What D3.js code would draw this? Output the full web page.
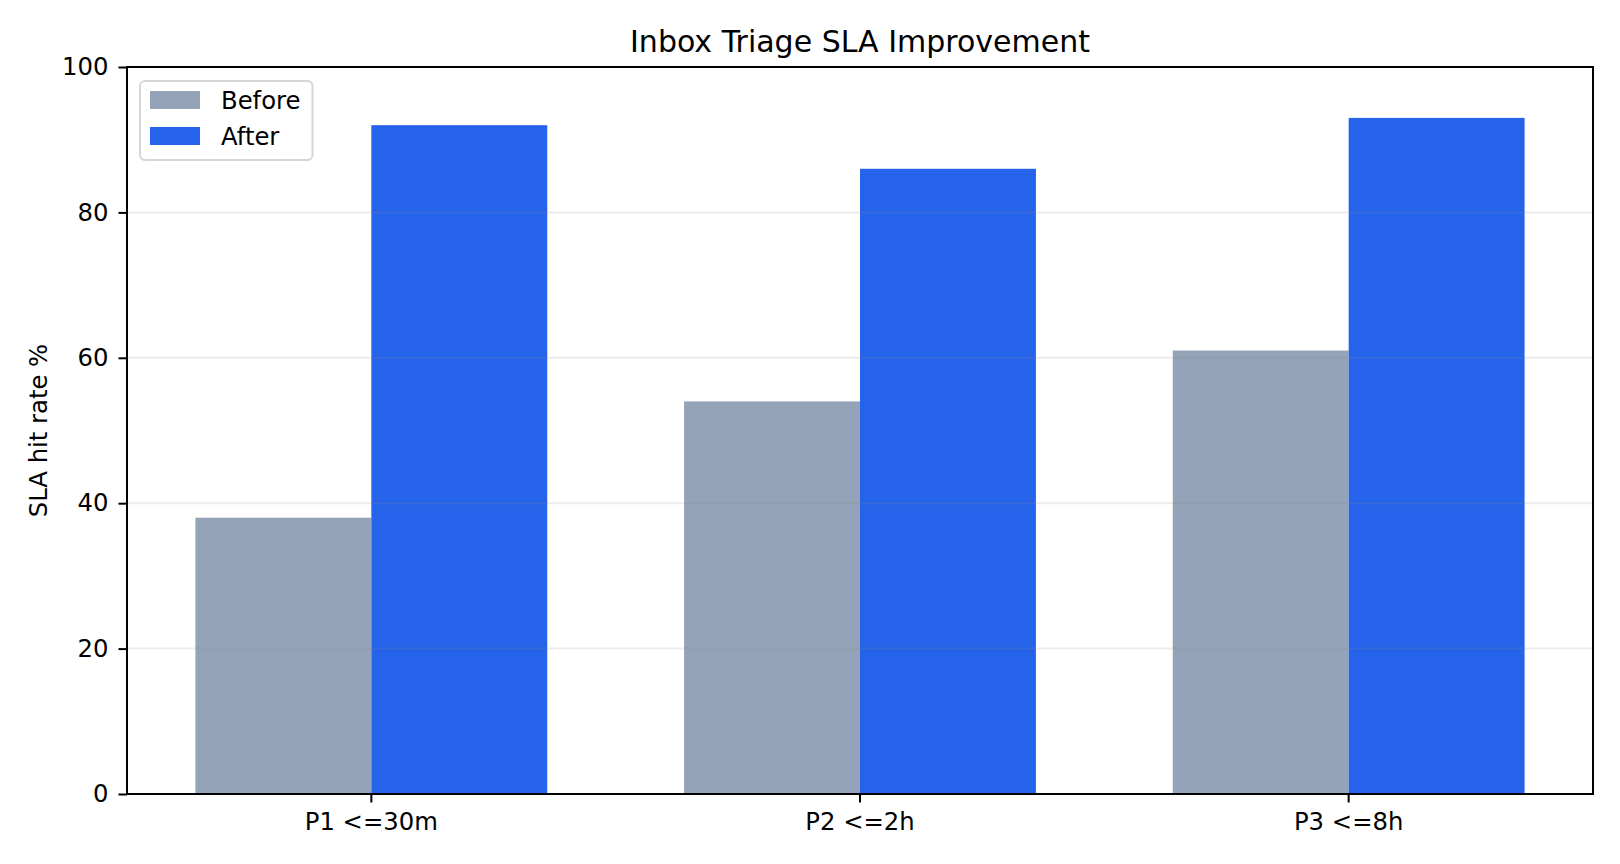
<!DOCTYPE html>
<html>
<head>
<meta charset="utf-8">
<script src="https://cdn.jsdelivr.net/npm/d3@7"></script>
<style>
  body { margin: 0; background: #fff; }
  text { font-family: 'DejaVu Sans', sans-serif; fill: #000; }
</style>
</head>
<body>
<div class="visHolder"></div>
<script>
// カテゴリ（横軸）
const categories = ['P1 <=30m', 'P2 <=2h', 'P3 <=8h']

// 系列ごとの値 (SLA hit rate %)
const seriesNames = ['Before', 'After']
const beforeValues = [38, 54, 61]
const afterValues = [92, 86, 93]

// 縦軸のメモリ
const yTicks = [0, 20, 40, 60, 80, 100]

const colors = ['#94a3b8', '#2563eb']

// 画面サイズ
const width = 1620
const height = 864

// グラフ描画エリアのマージン
const margin = { top: 67, right: 27, bottom: 70, left: 127 }

const svgContainer = d3.select('.visHolder').append('svg')
  .attr('width', width)
  .attr('height', height)

// x軸はカテゴリごとの scaleBand
const xScale = d3.scaleBand()
  .domain(categories)
  .range([margin.left, width - margin.right])
  .paddingInner(0)
  .paddingOuter(0)

// カテゴリ内で Before / After を並べる（バーの幅は 0.36 単位）
const barWidth = 0.36
const xSub = d3.scaleBand()
  .domain(seriesNames)
  .range([xScale.bandwidth() * (0.5 - barWidth), xScale.bandwidth() * (0.5 + barWidth)])

const yScale = d3.scaleLinear()
  .domain([0, 100])
  .range([height - margin.bottom, margin.top])

// 描画用にテーブルを作る
const rows = categories.map((c, i) => {
  return { category: c, values: [beforeValues[i], afterValues[i]] }
})

// バーの表示
const bars = svgContainer.append('g')
  .selectAll('g')
  .data(rows)
  .enter()
  .append('g')
  .attr('transform', (d) => { return 'translate(' + xScale(d.category) + ', 0)' })

bars.selectAll('rect')
  .data((d) => { return d.values.map((v, i) => { return { name: seriesNames[i], value: v, color: colors[i] } }) })
  .enter()
  .append('rect')
  .attr('x', (d) => { return xSub(d.name) })
  .attr('y', (d) => { return yScale(d.value) })
  .attr('width', xSub.bandwidth())
  .attr('height', (d) => { return yScale(0) - yScale(d.value) })
  .attr('fill', (d) => { return d.color })

// 横のグリッド線（バーの上に薄く）
svgContainer.append('g')
  .selectAll('line')
  .data(yTicks.filter((t) => { return t > 0 && t < 100 }))
  .enter()
  .append('line')
  .attr('x1', margin.left)
  .attr('x2', width - margin.right)
  .attr('y1', (d) => { return yScale(d) })
  .attr('y2', (d) => { return yScale(d) })
  .attr('stroke', '#8c8c8c')
  .attr('stroke-opacity', 0.17)
  .attr('stroke-width', 2)

// y軸
const yAxis = d3.axisLeft(yScale)
  .tickValues(yTicks)
  .tickFormat(d3.format('d'))
  .tickSize(8.5)
  .tickPadding(10)

const yG = svgContainer.append('g')
  .attr('id', 'y-axis')
  .attr('transform', 'translate(' + margin.left + ', 0)')
  .call(yAxis)

// x軸
const xAxis = d3.axisBottom(xScale)
  .tickSize(8.5)
  .tickPadding(10.5)

const xG = svgContainer.append('g')
  .attr('id', 'x-axis')
  .attr('transform', 'translate(0, ' + (height - margin.bottom) + ')')
  .call(xAxis)

// 軸の見た目を matplotlib 風に
;[xG, yG].forEach((g) => {
  g.select('.domain').remove()
  g.selectAll('line').attr('stroke', '#000').attr('stroke-width', 2)
  g.selectAll('text')
    .attr('fill', '#000')
    .style('font-family', '\'DejaVu Sans\', sans-serif')
    .style('font-size', '24.3px')
})

// 枠線
svgContainer.append('rect')
  .attr('x', margin.left)
  .attr('y', margin.top)
  .attr('width', width - margin.left - margin.right)
  .attr('height', height - margin.top - margin.bottom)
  .attr('fill', 'none')
  .attr('stroke', '#000')
  .attr('stroke-width', 2)

// タイトル
svgContainer.append('text')
  .attr('x', (margin.left + width - margin.right) / 2)
  .attr('y', margin.top - 14.6)
  .attr('text-anchor', 'middle')
  .style('font-size', '30px')
  .text('Inbox Triage SLA Improvement')

// y軸ラベル
svgContainer.append('text')
  .attr('transform', 'translate(46.5, ' + ((margin.top + height - margin.bottom) / 2) + ') rotate(-90)')
  .attr('text-anchor', 'middle')
  .style('font-size', '24.3px')
  .text('SLA hit rate %')

// 凡例
const legend = svgContainer.append('g')
  .attr('id', 'legend')
  .attr('transform', 'translate(140, 81)')

legend.append('rect')
  .attr('width', 172.5)
  .attr('height', 79)
  .attr('rx', 5)
  .attr('fill', '#fff')
  .attr('fill-opacity', 0.8)
  .attr('stroke', '#d6d6d6')
  .attr('stroke-width', 2)

const legendItems = legend.selectAll('g.item')
  .data(seriesNames)
  .enter()
  .append('g')
  .attr('class', 'item')
  .attr('transform', (d, i) => { return 'translate(0, ' + (i * 36) + ')' })

legendItems.append('rect')
  .attr('x', 10)
  .attr('y', 10)
  .attr('width', 50)
  .attr('height', 18)
  .attr('fill', (d, i) => { return colors[i] })

legendItems.append('text')
  .attr('x', 81)
  .attr('y', 28.3)
  .style('font-size', '24.3px')
  .text((d) => { return d })
</script>
</body>
</html>
